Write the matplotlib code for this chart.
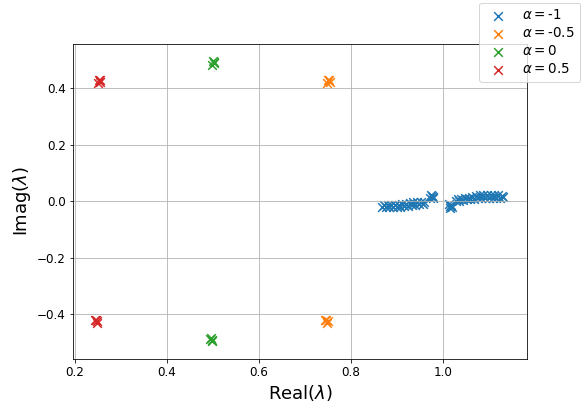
import matplotlib
matplotlib.use('Agg')
import matplotlib.pyplot as plt

# eigenvalues, one group per alpha
alphas = [-1, -0.5, 0, 0.5]

re_m1 = [0.868, 0.876, 0.884, 0.892, 0.900, 0.908, 0.916, 0.924, 0.932, 0.940, 0.948, 0.956,
         0.872, 0.880, 0.888, 0.896, 0.904, 0.912, 0.920, 0.928, 0.936, 0.944, 0.952, 0.958,
         0.973, 0.976, 0.978, 0.975, 0.979,
         1.013, 1.016, 1.018, 1.015, 1.019,
         1.028, 1.036, 1.044, 1.052, 1.060, 1.068, 1.076, 1.084, 1.092, 1.100, 1.108,
         1.116, 1.124, 1.130,
         1.032, 1.040, 1.048, 1.056, 1.064, 1.072, 1.080, 1.088, 1.096, 1.104, 1.112,
         1.120, 1.128]
im_m1 = [-0.020, -0.021, -0.021, -0.022, -0.021, -0.020, -0.019, -0.017, -0.015, -0.013, -0.011, -0.009,
         -0.013, -0.014, -0.015, -0.014, -0.013, -0.011, -0.009, -0.007, -0.005, -0.004, -0.003, -0.002,
         0.012, 0.018, 0.010, 0.022, 0.016,
         -0.010, -0.018, -0.013, -0.024, -0.020,
         0.000, 0.002, 0.004, 0.006, 0.008, 0.009, 0.010, 0.011, 0.012, 0.012, 0.012,
         0.012, 0.012, 0.013,
         0.006, 0.008, 0.010, 0.012, 0.014, 0.017, 0.020, 0.021, 0.021, 0.021, 0.020,
         0.020, 0.019]

re_m05 = [0.749, 0.752, 0.754, 0.750, 0.745, 0.748, 0.750, 0.746]
im_m05 = [0.417, 0.427, 0.421, 0.430, -0.422, -0.431, -0.425, -0.420]

re_0 = [0.499, 0.502, 0.503, 0.500, 0.495, 0.498, 0.499, 0.496]
im_0 = [0.483, 0.492, 0.487, 0.495, -0.487, -0.496, -0.491, -0.485]

re_05 = [0.251, 0.254, 0.255, 0.252, 0.245, 0.248, 0.249, 0.246]
im_05 = [0.417, 0.427, 0.421, 0.430, -0.422, -0.431, -0.425, -0.420]

re_list = [re_m1, re_m05, re_0, re_05]
im_list = [im_m1, im_m05, im_0, im_05]

fig = plt.figure(figsize=(583 / 72, 403 / 72), dpi=72)
ax = fig.add_axes([0.125, 0.109, 0.779, 0.782])

for a, re, im in zip(alphas, re_list, im_list):
    ax.scatter(re, im, marker='x', s=75, linewidths=1.5, label=r'$\alpha=$' + str(a))

ax.set_xlim(0.196, 1.183)
ax.set_ylim(-0.559, 0.556)
ax.set_xticks([0.2, 0.4, 0.6, 0.8, 1.0])
ax.set_yticks([-0.4, -0.2, 0.0, 0.2, 0.4])
ax.tick_params(labelsize=12)
ax.set_xlabel(r'Real($\lambda$)', fontsize=18)
ax.set_ylabel(r'Imag($\lambda$)', fontsize=18)
ax.grid()

fig.legend(loc='upper right', bbox_to_anchor=(1.0, 1.0), borderaxespad=0.2,
           fontsize=13.5, labelspacing=0.3)

fig.savefig('out.png', dpi=72)
